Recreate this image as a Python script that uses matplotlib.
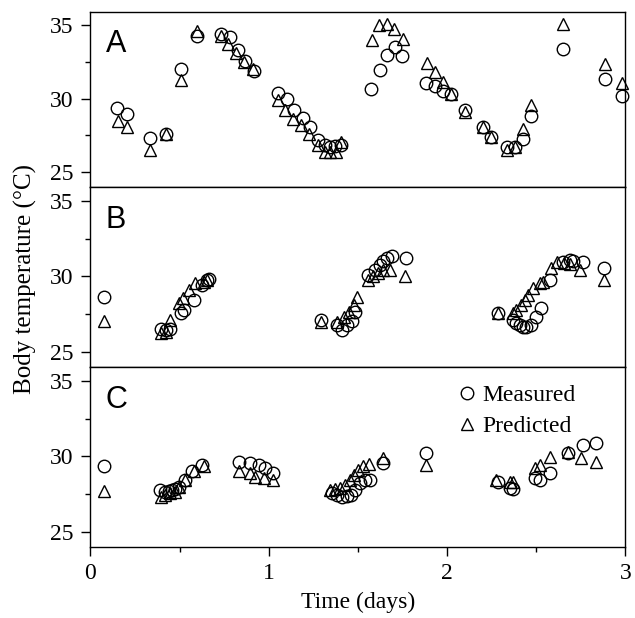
import matplotlib
matplotlib.use("Agg")
import matplotlib.pyplot as plt
from matplotlib.ticker import MultipleLocator

plt.rcParams.update({
    "font.family": ["Liberation Serif", "DejaVu Serif"],
    "font.size": 17,
})

# -------- panel A --------
a_meas_t = [0.149, 0.202, 0.331, 0.422, 0.51, 0.598, 0.732, 0.784, 0.827, 0.868,
            0.915, 1.051, 1.102, 1.143, 1.19, 1.232, 1.275, 1.317, 1.345, 1.373,
            1.404, 1.575, 1.622, 1.665, 1.706, 1.749, 1.883, 1.93, 1.976, 2.02,
            2.1, 2.201, 2.247, 2.335, 2.382, 2.425, 2.471, 2.649, 2.886, 2.979]
a_meas_T = [29.4, 28.95, 27.3, 27.6, 32.05, 34.25, 34.43, 34.2, 33.3, 32.6,
            31.9, 30.4, 30.0, 29.26, 28.7, 28.08, 27.18, 26.84, 26.72, 26.77,
            26.84, 30.65, 31.94, 33.0, 33.5, 32.9, 31.08, 30.85, 30.5, 30.3,
            29.2, 28.08, 27.4, 26.72, 26.72, 27.29, 28.8, 33.41, 31.33, 30.17]
a_pred_t = [0.153, 0.202, 0.331, 0.422, 0.51, 0.598, 0.734, 0.771, 0.818, 0.863,
            0.911, 1.049, 1.092, 1.133, 1.18, 1.227, 1.275, 1.313, 1.345, 1.378,
            1.404, 1.577, 1.618, 1.665, 1.702, 1.753, 1.887, 1.932, 1.976, 2.024,
            2.1, 2.201, 2.247, 2.335, 2.382, 2.425, 2.471, 2.649, 2.886, 2.979]
a_pred_T = [28.5, 28.1, 26.5, 27.6, 31.26, 34.6, 34.3, 33.75, 33.1, 32.5,
            32.0, 29.9, 29.2, 28.65, 28.2, 27.6, 26.84, 26.4, 26.36, 26.4,
            27.06, 33.98, 35.0, 35.1, 34.78, 34.1, 32.44, 31.8, 31.14, 30.35,
            29.1, 28.08, 27.4, 26.5, 26.72, 27.97, 29.56, 35.07, 32.4, 31.08]

# -------- panel B --------
b_meas_t = [0.075, 0.398, 0.426, 0.448, 0.508, 0.523, 0.579, 0.626, 0.654, 0.663,
            1.294, 1.382, 1.41, 1.438, 1.466, 1.485, 1.556, 1.594, 1.622, 1.64,
            1.66, 1.693, 1.768, 2.285, 2.369, 2.388, 2.406, 2.425, 2.444, 2.472,
            2.5, 2.528, 2.574, 2.649, 2.687, 2.705, 2.761, 2.882]
b_meas_T = [28.65, 26.5, 26.42, 26.5, 27.55, 27.77, 28.43, 29.43, 29.76, 29.8,
            27.1, 26.8, 26.44, 26.8, 27.05, 27.65, 30.09, 30.42, 30.75, 31.02,
            31.24, 31.37, 31.24, 27.55, 27.1, 26.88, 26.8, 26.66, 26.66, 26.8,
            27.33, 27.88, 29.76, 30.97, 31.08, 31.0, 30.97, 30.53]
b_pred_t = [0.075, 0.396, 0.426, 0.444, 0.495, 0.519, 0.551, 0.588, 0.635, 0.654,
            1.294, 1.382, 1.419, 1.447, 1.475, 1.494, 1.556, 1.584, 1.612, 1.64,
            1.678, 1.762, 2.285, 2.369, 2.388, 2.415, 2.434, 2.453, 2.481, 2.518,
            2.537, 2.584, 2.615, 2.658, 2.687, 2.743, 2.882]
b_pred_T = [27.04, 26.22, 26.33, 27.1, 28.2, 28.54, 29.1, 29.54, 29.65, 29.76,
            27.0, 26.96, 27.3, 27.66, 28.1, 28.6, 29.76, 30.05, 30.2, 30.42,
            30.42, 30.05, 27.6, 27.55, 27.77, 28.1, 28.43, 28.76, 29.2, 29.54,
            29.65, 30.53, 30.97, 30.86, 30.8, 30.42, 29.76]

# -------- panel C --------
c_meas_t = [0.075, 0.392, 0.42, 0.439, 0.458, 0.476, 0.495, 0.532, 0.57, 0.626,
            0.831, 0.896, 0.943, 0.98, 1.023, 1.354, 1.382, 1.41, 1.438, 1.46,
            1.482, 1.51, 1.538, 1.566, 1.64, 1.883, 2.285, 2.35, 2.369, 2.49,
            2.518, 2.574, 2.677, 2.761, 2.835]
c_meas_T = [29.33, 27.78, 27.67, 27.7, 27.78, 27.85, 27.94, 28.44, 29.0, 29.44,
            29.66, 29.55, 29.44, 29.22, 28.89, 27.56, 27.45, 27.34, 27.4, 27.45,
            27.78, 28.22, 28.44, 28.44, 29.55, 30.21, 28.33, 27.9, 27.85, 28.55,
            28.44, 28.89, 30.21, 30.76, 30.87]
c_pred_t = [0.075, 0.398, 0.42, 0.448, 0.476, 0.495, 0.532, 0.579, 0.635, 0.831,
            0.893, 0.924, 0.971, 1.023, 1.345, 1.373, 1.4, 1.429, 1.457, 1.48,
            1.5, 1.529, 1.562, 1.64, 1.883, 2.276, 2.35, 2.369, 2.49, 2.518,
            2.574, 2.677, 2.752, 2.835]
c_pred_T = [27.72, 27.34, 27.45, 27.56, 27.67, 27.94, 28.44, 29.0, 29.33, 29.0,
            28.89, 28.66, 28.55, 28.44, 27.78, 27.85, 27.9, 28.11, 28.44, 28.77,
            29.11, 29.33, 29.48, 29.88, 29.44, 28.44, 28.33, 28.28, 29.22, 29.44,
            29.99, 30.28, 29.88, 29.66]

panels = [
    ("A", a_meas_t, a_meas_T, a_pred_t, a_pred_T),
    ("B", b_meas_t, b_meas_T, b_pred_t, b_pred_T),
    ("C", c_meas_t, c_meas_T, c_pred_t, c_pred_T),
]

fig = plt.figure(figsize=(6.35, 6.18), dpi=100)
gs = fig.add_gridspec(3, 1, height_ratios=[175, 180, 180], hspace=0,
                      left=0.1425, right=0.985, top=0.981, bottom=0.115)

marker_kw = dict(linestyle="none", markersize=9, markerfacecolor="none",
                 markeredgecolor="black", markeredgewidth=1.0, clip_on=False)

axes = []
for i, (letter, mt, mT, pt, pT) in enumerate(panels):
    ax = fig.add_subplot(gs[i])
    ax.plot(pt, pT, marker="^", label="Predicted", **marker_kw)
    ax.plot(mt, mT, marker="o", label="Measured", **marker_kw)

    ax.set_xlim(0, 3)
    ax.set_ylim(24, 35.93)
    ax.yaxis.set_major_locator(MultipleLocator(5))
    ax.yaxis.set_minor_locator(MultipleLocator(2.5))
    ax.xaxis.set_major_locator(MultipleLocator(1))
    ax.xaxis.set_minor_locator(MultipleLocator(0.5))
    ax.tick_params(axis="y", which="major", direction="out", length=6.5,
                   width=1, pad=6, labelsize=17, right=False)
    ax.tick_params(axis="y", which="minor", direction="out", length=3.5, width=1)
    if i < 2:
        ax.tick_params(axis="x", which="both", bottom=False, labelbottom=False)
    else:
        ax.tick_params(axis="x", which="major", direction="out", length=6.5,
                       width=1, pad=5, labelsize=17)
        ax.tick_params(axis="x", which="minor", direction="out", length=3.5, width=1)
    for s in ax.spines.values():
        s.set_linewidth(1.0)

    ax.text(0.028, 0.771, letter, transform=ax.transAxes, fontsize=22,
            family=["Liberation Sans", "DejaVu Sans"], va="baseline", ha="left")
    axes.append(ax)

axes[2].set_xlabel("Time (days)", fontsize=17, labelpad=6)
fig.text(0.04, 0.548, "Body temperature (°C)", rotation=90, fontsize=18,
         va="center", ha="center")

h, l = axes[2].get_legend_handles_labels()
axes[2].legend(h[::-1], l[::-1], loc="upper left", bbox_to_anchor=(0.682, 0.902),
               frameon=False, fontsize=17, handlelength=1.0, handletextpad=0.15,
               borderpad=0, borderaxespad=0, labelspacing=0.42)

fig.savefig("out.png", dpi=100)
